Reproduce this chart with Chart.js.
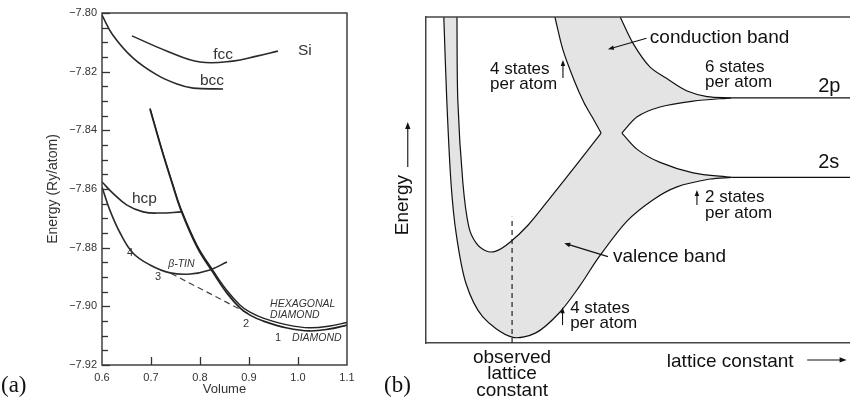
<!DOCTYPE html>
<html>
<head>
<meta charset="utf-8">
<script src="https://cdn.jsdelivr.net/npm/chart.js@4.4.1/dist/chart.umd.min.js"></script>
<style>
  html, body { margin: 0; padding: 0; background: #fff; }
  #wrap { position: relative; width: 850px; height: 406px; overflow: hidden; }
  #boxA { position: absolute; left: 0; top: 0; width: 380px; height: 406px; }
  #boxB { position: absolute; left: 380px; top: 0; width: 470px; height: 406px; }
</style>
</head>
<body>
<div id="wrap">
  <div id="boxA"><canvas id="chartA"></canvas></div>
  <div id="boxB"><canvas id="chartB"></canvas></div>
</div>
<script>
// ---------- panel (a): Si energy vs volume ----------
const volumeTicks = [0.6, 0.7, 0.8, 0.9, 1.0, 1.1]
const energyRange = [-7.92, -7.80]

const fcc = [[0.661, -7.8078], [0.733, -7.8130], [0.800, -7.8167], [0.867, -7.8164], [0.916, -7.8147], [0.959, -7.8130]]
const bcc = [[0.600, -7.8007], [0.622, -7.8075], [0.663, -7.8153], [0.712, -7.8211], [0.753, -7.8242], [0.786, -7.8256], [0.847, -7.8259]]
const hcp = [[0.600, -7.8576], [0.622, -7.8614], [0.651, -7.8655], [0.684, -7.8678], [0.718, -7.8682], [0.762, -7.8678]]
const betaTin = [[0.600, -7.8593], [0.616, -7.8672], [0.637, -7.8750], [0.663, -7.8818], [0.698, -7.8859], [0.739, -7.8886],
  [0.780, -7.8890], [0.820, -7.8876], [0.855, -7.8849]]
const diamond = [[0.698, -7.8327], [0.722, -7.8467], [0.743, -7.8580], [0.761, -7.8672], [0.794, -7.8798], [0.827, -7.8886],
  [0.855, -7.8955], [0.882, -7.9006], [0.902, -7.9030], [0.929, -7.9050], [0.978, -7.9074], [1.024, -7.9084], [1.065, -7.9077], [1.100, -7.9064]]
const hexDiamond = [[0.698, -7.8325], [0.722, -7.8464], [0.743, -7.8576], [0.761, -7.8667], [0.794, -7.8792], [0.827, -7.8879],
  [0.855, -7.8946], [0.882, -7.8996], [0.902, -7.9020], [0.929, -7.9040], [0.978, -7.9063], [1.024, -7.9073], [1.065, -7.9067], [1.100, -7.9055]]
const commonTangent = [[0.741, -7.8888], [0.898, -7.9024]]

// text, volume, energy, style
const notesA = [
  ['fcc', 0.827, -7.8157, 'n'], ['bcc', 0.800, -7.8245, 'n'], ['Si', 1.000, -7.8143, 'n'],
  ['hcp', 0.661, -7.8648, 'n'], ['\u03b2-TIN', 0.735, -7.8866, 'i'],
  ['4', 0.651, -7.8829, 'd'], ['3', 0.708, -7.8910, 'd'], ['2', 0.888, -7.9071, 'd'], ['1', 0.953, -7.9118, 'd'],
  ['HEXAGONAL', 0.943, -7.9002, 'i'], ['DIAMOND', 0.943, -7.9040, 'i'], ['DIAMOND', 0.988, -7.9118, 'i']
]

// ---------- panel (b): bands vs lattice constant (arbitrary units) ----------
const observed = 20.3
const bandOuter = [[4.2, 100], [4.9, 74.5], [5.9, 49.1], [7.1, 33.7], [9.4, 18.4], [13.4, 8.0], [20.3, 1.8], [25.9, 3.1],
  [31.4, 9.2], [36.1, 17.2], [40.8, 26.4], [47.4, 37.4], [53.5, 43.9], [59.2, 47.9], [67.0, 50.3], [72.0, 50.8]]
const level2s = [[72.0, 50.8], [100, 50.8]]
const gapLow = [[46.2, 64.4], [49.8, 59.4], [55.2, 55.4], [63.0, 52.2], [72.0, 50.8]]
const gapHigh = [[46.2, 64.4], [49.8, 69.4], [55.2, 72.4], [63.0, 74.2], [72.0, 75.2]]
const level2p = [[72.0, 75.2], [100, 75.2]]
const condRight = [[45.8, 100], [48.8, 92.0], [52.8, 84.7], [57.3, 80.7], [61.6, 77.3], [66.3, 75.6], [72.0, 75.2]]
const bandInner = [[7.3, 100], [7.5, 74.5], [8.7, 49.1], [10.1, 35.6], [11.8, 30.7], [14.2, 28.2], [16.5, 28.2],
  [19.6, 30.7], [24.1, 36.2], [30.0, 45.7], [35.6, 54.9], [41.3, 64.4]]
const condLeft = [[41.3, 64.4], [39.2, 69.3], [37.3, 73.6], [34.9, 80.7], [32.3, 89.9], [30.4, 100]]
const observedLine = [[observed, 0], [observed, 38.7]]

const notesB = [
  ['conduction band', 52.8, 91.9, 'big'],
  ['4 states', 15.1, 82.5, 'small'], ['per atom', 15.1, 77.8, 'small'],
  ['6 states', 65.8, 83.2, 'small'], ['per atom', 65.8, 78.4, 'small'],
  ['2p', 92.5, 77.1, 'level'], ['2s', 92.5, 53.6, 'level'],
  ['2 states', 65.8, 43.2, 'small'], ['per atom', 65.8, 38.3, 'small'],
  ['valence band', 44.1, 24.8, 'big'],
  ['4 states', 34.0, 9.2, 'small'], ['per atom', 34.0, 4.7, 'small'],
  ['lattice constant', 56.8, -7.3, 'big']
]
// from -> to (arrow head at "to")
const arrowsB = [
  [[52.0, 93.5], [42.9, 90.1]],
  [[42.9, 26.5], [32.6, 30.6]],
  [[32.3, 81.3], [32.3, 86.8]],
  [[63.9, 42.3], [63.9, 46.9]],
  [[32.2, 5.5], [32.2, 11.0]],
  [[89.9, -5.2], [99.2, -5.2]],
  [[-4.3, 54.0], [-4.3, 67.8]]
]

const sans = "'Liberation Sans', Arial, sans-serif"
const serif = "'Liberation Serif', 'DejaVu Serif', serif"
Chart.defaults.font.family = sans

function pts(list) {
  return list.map(p => ({x: p[0], y: p[1]}))
}

function curve(list, color, width, extra) {
  return Object.assign({
    data: pts(list), showLine: true, borderColor: color, borderWidth: width,
    pointRadius: 0, pointHoverRadius: 0, tension: 0.4, fill: false
  }, extra || {})
}

function isMajor(v) {
  return Math.abs(v / 0.02 - Math.round(v / 0.02)) < 1e-6
}

function arrow(ctx, x0, y0, x1, y1, head) {
  const ang = Math.atan2(y1 - y0, x1 - x0)
  ctx.beginPath()
  ctx.moveTo(x0, y0)
  ctx.lineTo(x1 - Math.cos(ang) * head * 0.8, y1 - Math.sin(ang) * head * 0.8)
  ctx.stroke()
  ctx.beginPath()
  ctx.moveTo(x1, y1)
  ctx.lineTo(x1 - Math.cos(ang) * head + Math.sin(ang) * head * 0.38, y1 - Math.sin(ang) * head - Math.cos(ang) * head * 0.38)
  ctx.lineTo(x1 - Math.cos(ang) * head - Math.sin(ang) * head * 0.38, y1 - Math.sin(ang) * head + Math.cos(ang) * head * 0.38)
  ctx.closePath()
  ctx.fill()
}

// frame, inward ticks and labels of panel (a)
const decorA = {
  id: 'decorA',
  afterDraw(chart) {
    const {ctx, chartArea: a, scales: {x, y}} = chart
    ctx.save()
    ctx.strokeStyle = '#333'
    ctx.lineWidth = 1.4
    ctx.strokeRect(a.left, a.top, a.width, a.height)
    ctx.lineWidth = 1.3
    y.ticks.forEach(t => {
      const py = Math.round(y.getPixelForValue(t.value)) + 0.5
      ctx.beginPath()
      ctx.moveTo(a.left, py)
      ctx.lineTo(a.left + (isMajor(t.value) ? 8 : 6), py)
      ctx.stroke()
    })
    x.ticks.forEach(t => {
      if (t.value <= volumeTicks[0] || t.value >= volumeTicks[volumeTicks.length - 1]) return
      const px = Math.round(x.getPixelForValue(t.value)) + 0.5
      ctx.beginPath()
      ctx.moveTo(px, a.bottom)
      ctx.lineTo(px, a.bottom - 8)
      ctx.stroke()
    })
    ctx.fillStyle = '#333'
    ctx.textBaseline = 'alphabetic'
    ctx.textAlign = 'left'
    notesA.forEach(([txt, vx, vy, st]) => {
      ctx.font = st === 'i' ? 'italic 10.5px ' + sans : st === 'd' ? '11px ' + sans : '15.5px ' + sans
      ctx.fillText(txt, x.getPixelForValue(vx), y.getPixelForValue(vy))
    })
    ctx.fillStyle = '#111'
    ctx.font = '23px ' + serif
    ctx.fillText('(a)', 1, chart.height - 14)
    ctx.restore()
  }
}

new Chart(document.getElementById('chartA'), {
  type: 'scatter',
  data: {
    datasets: [
      curve(fcc, '#2a2a2a', 1.6),
      curve(bcc, '#2a2a2a', 1.6),
      curve(hcp, '#2a2a2a', 1.6),
      curve(betaTin, '#2a2a2a', 1.6),
      curve(diamond, '#222', 1.7),
      curve(hexDiamond, '#222', 1.4),
      curve(commonTangent, '#444', 1.2, {tension: 0, borderDash: [6, 4]})
    ]
  },
  options: {
    responsive: true,
    maintainAspectRatio: false,
    animation: false,
    layout: {padding: {top: 13, right: 33, left: 0, bottom: 0}},
    plugins: {legend: {display: false}, tooltip: {enabled: false}},
    scales: {
      x: {
        type: 'linear', min: volumeTicks[0], max: volumeTicks[volumeTicks.length - 1],
        afterBuildTicks: s => { s.ticks = volumeTicks.map(v => ({value: v})) },
        afterFit: s => { s.height = 41 },
        grid: {display: false, drawTicks: false},
        border: {display: false},
        ticks: {autoSkip: false, maxRotation: 0, padding: 6, color: '#333', font: {size: 11},
          callback: v => Number(v).toFixed(1)},
        title: {display: true, text: 'Volume', color: '#333', font: {size: 13}, padding: {top: 0, bottom: 9}}
      },
      y: {
        type: 'linear', min: energyRange[0], max: energyRange[1],
        afterFit: s => { s.width = 102 },
        grid: {display: false, drawTicks: false},
        border: {display: false},
        ticks: {stepSize: 0.005, maxTicksLimit: 100, autoSkip: false, padding: 5, color: '#333', font: {size: 11},
          callback: v => isMajor(v) ? '\u2212' + Math.abs(v).toFixed(2) : ''},
        title: {display: true, text: 'Energy (Ry/atom)', color: '#333', font: {size: 14}, padding: {top: 45, bottom: 0}}
      }
    }
  },
  plugins: [decorA]
})

// grey band area of panel (b), traced along the curve datasets
const bandFill = {
  id: 'bandFill',
  beforeDatasetsDraw(chart) {
    const {ctx, chartArea: a} = chart
    const trace = steps => {
      ctx.beginPath()
      steps.forEach(([i, reverse], k) => {
        const line = chart.getDatasetMeta(i).dataset
        line.updateControlPoints(a, 'x')
        line.pathSegment(ctx, line.segments[0], {move: k === 0, reverse: reverse})
      })
      ctx.closePath()
    }
    ctx.save()
    ctx.beginPath()
    ctx.rect(a.left, a.top, a.width, a.height)
    ctx.clip()
    trace([[0, false], [2, true], [3, false], [5, true]])
    ctx.fillStyle = '#e4e4e4'
    ctx.fill()
    trace([[6, false], [7, false]])
    ctx.fillStyle = '#fff'
    ctx.fill()
    ctx.restore()
  }
}

const decorB = {
  id: 'decorB',
  afterDraw(chart) {
    const {ctx, chartArea: a, scales: {x, y}} = chart
    ctx.save()
    ctx.strokeStyle = '#444'
    ctx.lineWidth = 1.5
    ctx.beginPath()
    ctx.moveTo(a.left, a.top)
    ctx.lineTo(a.right, a.top)
    ctx.stroke()

    ctx.fillStyle = '#111'
    ctx.textAlign = 'left'
    ctx.textBaseline = 'alphabetic'
    const sizes = {big: 19, small: 17, level: 20}
    notesB.forEach(([txt, vx, vy, st]) => {
      ctx.font = sizes[st] + 'px ' + sans
      ctx.fillText(txt, x.getPixelForValue(vx), y.getPixelForValue(vy))
    })

    ctx.strokeStyle = '#111'
    ctx.lineWidth = 1.1
    arrowsB.forEach(([p, q], i) => {
      const big = i >= arrowsB.length - 2
      arrow(ctx, x.getPixelForValue(p[0]), y.getPixelForValue(p[1]),
        x.getPixelForValue(q[0]), y.getPixelForValue(q[1]), big ? 7 : 6)
    })

    // rotated axis word
    ctx.save()
    ctx.translate(x.getPixelForValue(-5.4), y.getPixelForValue(42.3))
    ctx.rotate(-Math.PI / 2)
    ctx.font = '19px ' + sans
    ctx.textAlign = 'center'
    ctx.textBaseline = 'middle'
    ctx.fillText('Energy', 0, 0)
    ctx.restore()

    ctx.font = '23px ' + serif
    ctx.fillText('(b)', 4, chart.height - 14)
    ctx.restore()
  }
}

new Chart(document.getElementById('chartB'), {
  type: 'scatter',
  data: {
    datasets: [
      curve(bandOuter, '#111', 1.2, {tension: 0.3}),
      curve(level2s, '#111', 1.2, {tension: 0}),
      curve(gapLow, '#111', 1.2, {tension: 0.3}),
      curve(gapHigh, '#111', 1.2, {tension: 0.3}),
      curve(level2p, '#111', 1.2, {tension: 0}),
      curve(condRight, '#111', 1.2, {tension: 0.3}),
      curve(bandInner, '#111', 1.2, {tension: 0.3}),
      curve(condLeft, '#111', 1.2, {tension: 0.3}),
      curve(observedLine, '#222', 1.2, {tension: 0, borderDash: [5, 4]})
    ]
  },
  options: {
    responsive: true,
    maintainAspectRatio: false,
    animation: false,
    layout: {padding: {top: 17, right: 0, left: 0, bottom: 0}},
    plugins: {legend: {display: false}, tooltip: {enabled: false}},
    scales: {
      x: {
        type: 'linear', min: 0, max: 100,
        afterBuildTicks: s => { s.ticks = [{value: observed}] },
        afterFit: s => { s.height = 63 },
        grid: {display: false, drawTicks: false},
        border: {display: true, color: '#444', width: 1.5},
        ticks: {autoSkip: false, maxRotation: 0, padding: 7, color: '#111', font: {size: 19, lineHeight: 0.85},
          callback: () => ['observed', 'lattice', 'constant']}
      },
      y: {
        type: 'linear', min: 0, max: 100,
        afterFit: s => { s.width = 46 },
        grid: {display: false, drawTicks: false},
        border: {display: true, color: '#444', width: 1.5},
        ticks: {display: false}
      }
    }
  },
  plugins: [bandFill, decorB]
})
</script>
</body>
</html>
